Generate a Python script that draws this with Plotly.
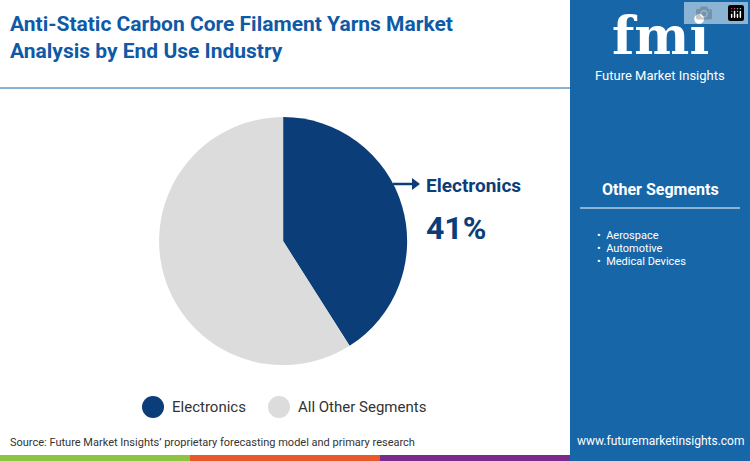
import plotly.graph_objects as go

segments = ["Electronics", "All Other Segments"]
shares = [41, 59]
other_segments = ["Aerospace", "Automotive", "Medical Devices"]
colors = ["#0b3d78", "#dcdcdc"]

fig = go.Figure()
fig.add_trace(go.Pie(labels=segments, values=shares, sort=False, direction="clockwise",
                     rotation=0, marker=dict(colors=colors), textinfo="none",
                     hoverinfo="label+percent", showlegend=False,
                     domain=dict(x=[0.212, 0.543], y=[0.208, 0.746])))

W, H = 750, 461
def px(x): return x / W
def py(y): return 1 - y / H

shapes = [
    dict(type="rect", xref="paper", yref="paper", x0=px(570), x1=1, y0=0, y1=1,
         fillcolor="#1766a8", line_width=0, layer="below"),
    dict(type="line", xref="paper", yref="paper", x0=0, x1=px(570), y0=py(88), y1=py(88),
         line=dict(color="#1766a8", width=1)),
    dict(type="line", xref="paper", yref="paper", x0=px(580), x1=px(740), y0=py(208), y1=py(208),
         line=dict(color="white", width=1)),
    dict(type="line", xref="paper", yref="paper", x0=px(393), x1=px(414), y0=py(184), y1=py(184),
         line=dict(color="#0b3d78", width=2.5)),
    dict(type="path", xref="paper", yref="paper",
         path=f"M {px(412)} {py(178)} L {px(420)} {py(184)} L {px(412)} {py(190)} Z",
         fillcolor="#0b3d78", line_width=0),
]
strip = [("#8cc540", 0, 190), ("#e8582a", 190, 380), ("#7b2b8c", 380, 570), ("#1766a8", 570, 750)]
for c, a, b in strip:
    shapes.append(dict(type="rect", xref="paper", yref="paper", x0=px(a), x1=px(b),
                       y0=0, y1=py(455), fillcolor=c, line_width=0))
# legend markers
for i, cx in enumerate([153, 279]):
    shapes.append(dict(type="circle", xref="paper", yref="paper", x0=px(cx - 11), x1=px(cx + 11),
                       y0=py(418), y1=py(396), fillcolor=colors[i], line_width=0))

ann = [
    dict(x=px(8), y=py(38), text="Anti-Static Carbon Core Filament Yarns Market<br>Analysis by End Use Industry",
         font=dict(size=21, color="#0f5aa6", family="Roboto", weight="bold"), xanchor="left", align="left"),
    dict(x=px(424), y=py(186), text=f"<b>{segments[0]}</b>", font=dict(size=19, color="#0b3d78", family="Roboto"),
         xanchor="left"),
    dict(x=px(424), y=py(228), text=f"<b>{shares[0]}%</b>", font=dict(size=32, color="#0b3d78", family="Roboto"),
         xanchor="left"),
    dict(x=px(170), y=py(407), text=segments[0], font=dict(size=15, color="#333", family="Roboto"), xanchor="left"),
    dict(x=px(296), y=py(407), text=segments[1], font=dict(size=15, color="#333", family="Roboto"), xanchor="left"),
    dict(x=px(8), y=py(442), text="Source: Future Market Insights’ proprietary forecasting model and primary research",
         font=dict(size=11, color="#333", family="Roboto"), xanchor="left"),
    dict(x=px(660), y=py(441), text="www.futuremarketinsights.com",
         font=dict(size=12, color="white", family="Roboto"), xanchor="center"),
    dict(x=px(660), y=py(189), text="<b>Other Segments</b>",
         font=dict(size=16, color="white", family="Roboto"), xanchor="center"),
    dict(x=px(660), y=py(36), text="<b>fmi</b>",
         font=dict(size=52, color="white", family="DejaVu Serif"), xanchor="center"),
    dict(x=px(660), y=py(76), text="Future Market Insights",
         font=dict(size=13, color="white", family="Roboto"), xanchor="center"),
]
for i, s in enumerate(other_segments):
    ann.append(dict(x=px(595), y=py(235 + i * 13), text="•  " + s,
                    font=dict(size=11, color="white", family="Roboto"), xanchor="left"))
for a in ann:
    a.update(xref="paper", yref="paper", showarrow=False, yanchor="middle")

fig.update_layout(width=W, height=H, margin=dict(l=0, r=0, t=0, b=0),
                  paper_bgcolor="white", plot_bgcolor="white",
                  shapes=shapes, annotations=ann)
fig.write_html("out.html", post_script="document.body.style.margin='0';")
